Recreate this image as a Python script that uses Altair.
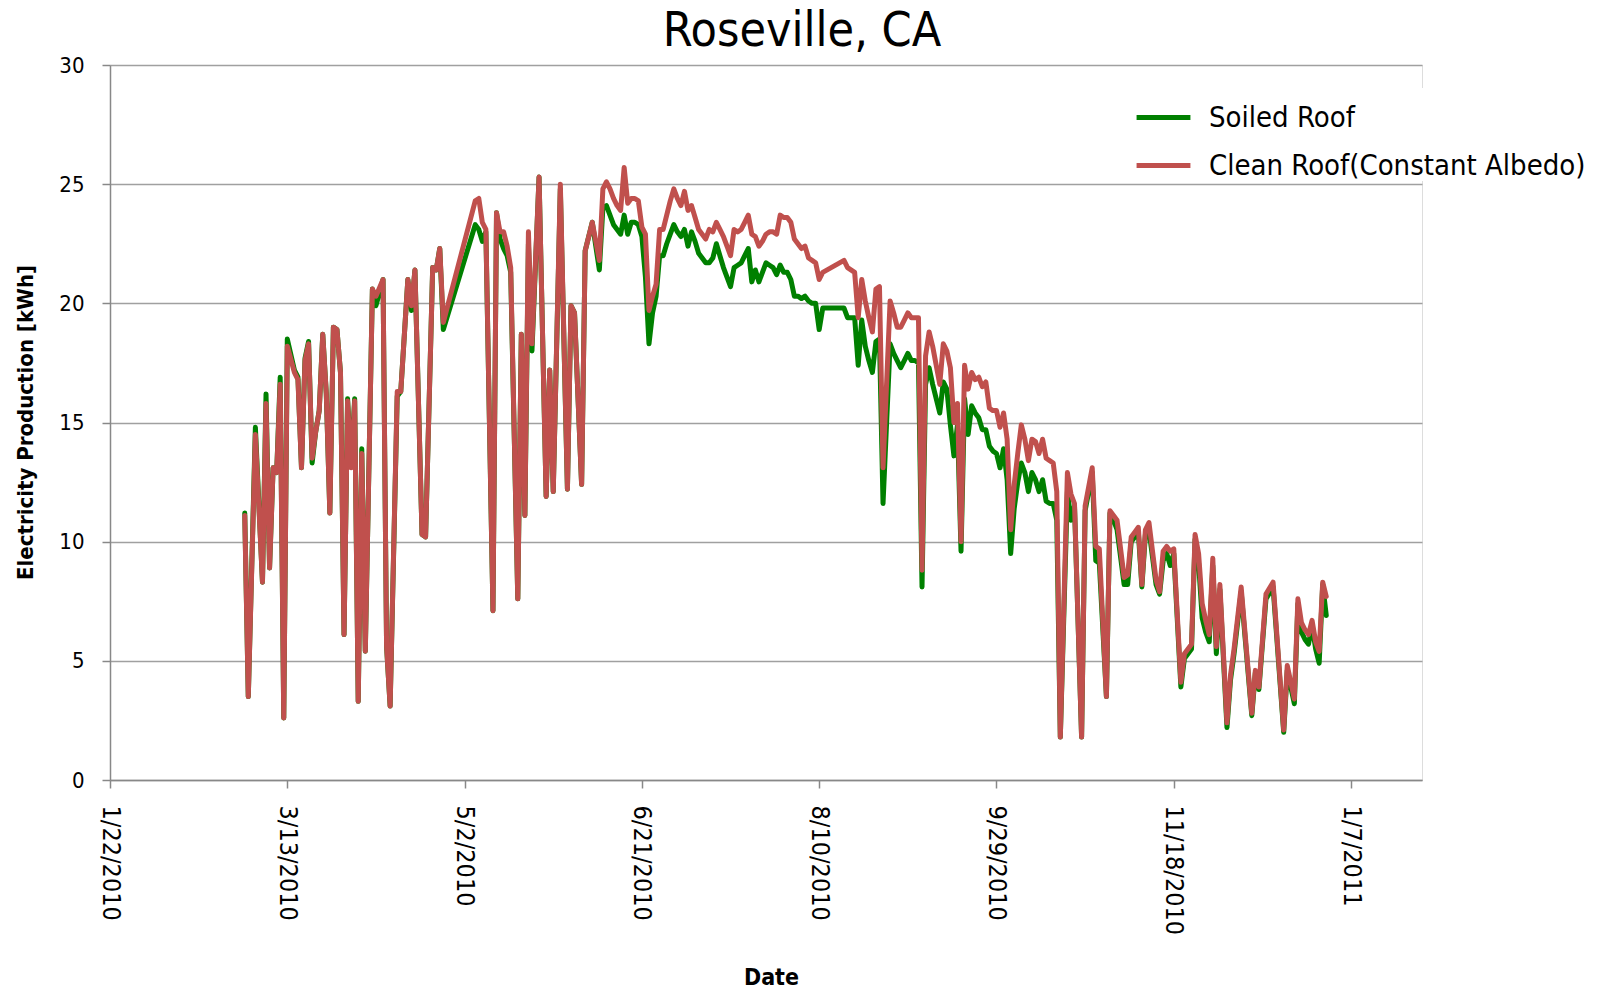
import altair as alt
import pandas as pd

start_date = "2010-01-22"

day_offset = [38, 39, 41, 43, 44, 45, 46, 47, 48, 49, 50, 52, 53, 54, 55, 56, 57, 58, 59, 60,
              61, 62, 63, 64, 65, 66, 67, 68, 69, 70, 71, 72, 74, 75, 77, 78, 79, 81, 82, 84,
              85, 86, 88, 89, 91, 92, 93, 94, 103, 104, 105, 106, 108, 109, 110, 111, 112, 113, 115, 116,
              117, 118, 119, 121, 123, 124, 125, 127, 129, 130, 131, 133, 134, 136, 138, 139, 140, 141, 142, 143,
              144, 145, 146, 147, 148, 149, 150, 151, 152, 153, 154, 155, 156, 157, 158, 159, 160, 161, 162, 163,
              164, 165, 166, 167, 168, 169, 170, 171, 172, 173, 174, 175, 176, 177, 178, 179, 180, 181, 182, 183,
              184, 185, 186, 187, 188, 189, 190, 191, 192, 193, 194, 195, 196, 197, 198, 199, 200, 201, 207, 208,
              210, 211, 212, 213, 214, 215, 216, 217, 218, 220, 221, 222, 223, 224, 225, 226, 227, 228, 229, 230,
              231, 232, 233, 234, 235, 236, 237, 238, 239, 240, 241, 242, 243, 244, 245, 246, 247, 248, 249, 250,
              251, 252, 253, 254, 255, 256, 257, 258, 259, 260, 261, 262, 263, 264, 265, 266, 267, 268, 270, 271,
              272, 274, 275, 277, 278, 279, 281, 282, 283, 284, 286, 287, 288, 289, 290, 291, 292, 293, 295, 296,
              297, 298, 299, 300, 302, 303, 305, 306, 307, 308, 309, 310, 311, 312, 313, 315, 316, 317, 319, 322,
              323, 324, 326, 328, 331, 332, 334, 335, 336, 337, 338, 339, 340, 341, 342, 343]

clean_roof = [11.1, 3.5, 14.5, 8.3, 15.8, 8.9, 13.1, 12.9, 16.6, 2.6, 18.2, 17.1, 16.8, 13.1, 17.6, 18.3, 13.5, 14.6, 15.5, 18.7,
              16.2, 11.2, 19.0, 18.9, 17.1, 6.1, 15.9, 13.1, 15.9, 3.3, 13.7, 5.4, 20.6, 20.3, 21.0, 5.6, 3.1, 16.3, 16.3, 21.0,
              19.9, 21.4, 10.3, 10.2, 21.5, 21.4, 22.3, 19.2, 24.3, 24.4, 23.4, 23.1, 7.1, 23.8, 23.0, 23.0, 22.4, 21.5, 7.6, 18.7,
              11.1, 23.0, 18.3, 25.3, 11.9, 17.2, 12.1, 25.0, 12.2, 19.9, 19.6, 12.4, 22.2, 23.4, 21.8, 24.8, 25.1, 24.8, 24.4, 24.1,
              23.9, 25.7, 24.2, 24.4, 24.4, 24.3, 23.2, 22.9, 19.7, 20.3, 20.8, 23.1, 23.1, 23.7, 24.3, 24.8, 24.4, 24.1, 24.7, 23.9,
              24.1, 23.6, 23.1, 22.9, 22.7, 23.1, 23.0, 23.4, 23.1, 22.8, 22.4, 22.0, 23.1, 23.0, 23.1, 23.4, 23.7, 22.9, 22.8, 22.4,
              22.6, 22.9, 23.0, 23.0, 22.9, 23.7, 23.6, 23.6, 23.4, 22.7, 22.5, 22.3, 22.4, 21.9, 21.8, 21.7, 21.0, 21.3, 21.8, 21.5,
              21.3, 19.4, 21.0, 20.1, 19.4, 18.8, 20.6, 20.7, 13.1, 20.1, 19.6, 19.0, 19.0, 19.3, 19.6, 19.4, 19.4, 19.4, 8.8, 17.8,
              18.8, 18.2, 17.4, 16.6, 18.3, 18.0, 17.3, 15.0, 15.8, 10.0, 17.4, 16.4, 17.1, 16.8, 16.9, 16.5, 16.7, 15.6, 15.5, 15.5,
              14.8, 15.4, 14.3, 10.5, 12.4, 13.7, 14.9, 14.3, 13.4, 14.3, 14.2, 13.7, 14.3, 13.5, 13.4, 13.3, 12.1, 1.8, 12.9, 12.0,
              11.6, 1.8, 11.5, 13.1, 9.8, 9.7, 3.5, 11.3, 11.1, 10.9, 8.5, 8.6, 10.2, 10.4, 10.6, 8.2, 10.5, 10.8, 8.4, 7.9,
              9.6, 9.8, 9.6, 9.7, 4.1, 5.3, 5.7, 10.3, 9.5, 7.4, 6.7, 6.1, 9.3, 5.6, 8.2, 2.4, 4.4, 5.5, 8.1, 2.8,
              4.6, 3.9, 7.8, 8.3, 2.1, 4.8, 3.4, 7.6, 6.6, 6.3, 6.1, 6.7, 5.8, 5.4, 8.3, 7.7]

soiled_roof = [11.2, 3.5, 14.8, 8.3, 16.2, 8.9, 13.1, 12.9, 16.9, 2.6, 18.5, 17.2, 16.9, 13.1, 17.7, 18.4, 13.3, 14.6, 15.5, 18.7,
               16.2, 11.2, 19.0, 18.9, 17.1, 6.1, 16.0, 13.2, 16.0, 3.3, 13.9, 5.4, 20.6, 19.9, 21.0, 5.6, 3.1, 16.1, 16.3, 21.0,
               19.7, 21.4, 10.3, 10.2, 21.5, 21.4, 22.3, 18.9, 23.3, 23.1, 22.6, 23.0, 7.1, 23.8, 22.7, 22.3, 22.0, 21.3, 7.6, 18.7,
               11.1, 22.5, 18.0, 25.3, 11.9, 17.2, 12.1, 24.8, 12.2, 19.9, 19.6, 12.4, 22.2, 23.4, 21.4, 24.0, 24.1, 23.7, 23.3, 23.1,
               22.9, 23.7, 22.9, 23.4, 23.4, 23.3, 22.8, 21.1, 18.3, 19.6, 20.3, 22.0, 22.0, 22.5, 22.9, 23.3, 23.0, 22.8, 23.1, 22.4,
               23.0, 22.6, 22.1, 21.9, 21.7, 21.7, 21.9, 22.5, 22.0, 21.5, 21.1, 20.7, 21.5, 21.6, 21.7, 22.0, 22.3, 20.9, 21.4, 20.9,
               21.3, 21.7, 21.6, 21.5, 21.2, 21.6, 21.3, 21.3, 21.0, 20.3, 20.3, 20.2, 20.3, 20.1, 20.0, 20.0, 18.9, 19.8, 19.8, 19.4,
               19.4, 17.4, 19.3, 18.2, 17.6, 17.1, 18.4, 18.5, 11.6, 18.3, 17.9, 17.6, 17.3, 17.6, 17.9, 17.6, 17.6, 17.5, 8.1, 16.6,
               17.3, 16.6, 16.0, 15.4, 16.7, 16.4, 14.9, 13.6, 14.9, 9.6, 16.0, 14.5, 15.7, 15.4, 15.2, 14.7, 14.7, 14.0, 13.8, 13.7,
               13.1, 13.9, 12.6, 9.5, 11.4, 12.5, 13.3, 12.9, 12.1, 12.9, 12.6, 12.1, 12.6, 11.7, 11.6, 11.6, 10.9, 1.8, 12.1, 10.9,
               11.5, 1.8, 11.3, 12.9, 9.2, 9.1, 3.5, 11.2, 10.9, 10.5, 8.2, 8.2, 10.0, 10.2, 10.4, 8.1, 10.3, 10.5, 8.2, 7.8,
               9.2, 9.5, 9.0, 9.5, 3.9, 5.1, 5.5, 10.1, 9.1, 6.8, 6.2, 5.8, 9.0, 5.3, 8.0, 2.2, 4.2, 5.3, 7.9, 2.7,
               4.5, 3.8, 7.6, 8.1, 2.0, 4.6, 3.2, 7.4, 6.2, 5.9, 5.7, 6.5, 5.5, 4.9, 8.2, 6.9]

series_names = ["Soiled Roof", "Clean Roof(Constant Albedo)"]
series_colors = ["#008000", "#C0504D"]
tick_dates = [(2010, 1, 22), (2010, 3, 13), (2010, 5, 2), (2010, 6, 21), (2010, 8, 10),
              (2010, 9, 29), (2010, 11, 18), (2011, 1, 7)]
x_domain = [(2010, 1, 22), (2011, 1, 27)]
y_ticks = [0, 5, 10, 15, 20, 25, 30]

dates = (pd.Timestamp(start_date) + pd.to_timedelta(day_offset, unit="D")).strftime("%Y-%m-%d").tolist()

df = pd.concat([
    pd.DataFrame({"Date": dates, "kWh": soiled_roof, "Series": series_names[0]}),
    pd.DataFrame({"Date": dates, "kWh": clean_roof, "Series": series_names[1]}),
], ignore_index=True)


def dt(t):
    return alt.DateTime(year=t[0], month=t[1], date=t[2], utc=True)


FONT = "DejaVu Sans Condensed, DejaVu Sans, sans-serif"
GRID = "#a0a0a0"
AXC = "#888888"

x_enc = alt.X(
    "Date:T",
    title="Date",
    scale=alt.Scale(type="utc", domain=[dt(x_domain[0]), dt(x_domain[1])]),
    axis=alt.Axis(
        values=[dt(t) for t in tick_dates],
        labelExpr="utcFormat(datum.value, '%-m/%-d/%Y')",
        labelAngle=90,
        labelAlign="left",
        labelBaseline="middle",
        labelFont=FONT,
        labelFontSize=25,
        labelColor="black",
        labelPadding=17,
        labelOverlap=False,
        tickSize=8,
        tickColor=AXC,
        tickWidth=1.5,
        domainColor=AXC,
        domainWidth=1.5,
        grid=False,
        titleFont=FONT,
        titleFontSize=23,
        titleFontWeight="bold",
        titleColor="black",
        titleX=661,
        titleY=197,
        titleBaseline="middle",
        titleAlign="center",
    ),
)

y_enc = alt.Y(
    "kWh:Q",
    title="Electricity Production [kWh]",
    scale=alt.Scale(domain=[0, 30], nice=False),
    axis=alt.Axis(
        values=y_ticks,
        labelFont=FONT,
        labelFontSize=22,
        labelColor="black",
        labelPadding=18,
        tickSize=8,
        tickColor=AXC,
        tickWidth=1.5,
        domainColor=AXC,
        domainWidth=1.5,
        grid=True,
        gridColor=GRID,
        gridWidth=1.5,
        titleFont=FONT,
        titleFontSize=22,
        titleFontWeight="bold",
        titleColor="black",
        titleAngle=270,
        titleX=-85,
        titleY=357,
        titleBaseline="middle",
        titleAlign="center",
    ),
)

color_enc = alt.Color(
    "Series:N",
    scale=alt.Scale(domain=series_names, range=series_colors),
    legend=alt.Legend(
        title=None,
        orient="none",
        legendX=1024,
        legendY=23,
        symbolType="stroke",
        symbolSize=2900,
        symbolStrokeWidth=5,
        labelFont=FONT,
        labelFontSize=29,
        labelColor="black",
        labelOffset=16,
        labelLimit=800,
        rowPadding=3,
        padding=0,
        fillColor="white",
    ),
)

base = alt.Chart(df).mark_line(strokeWidth=5, strokeJoin="round", strokeCap="round").encode(
    x=x_enc, y=y_enc, color=color_enc, order=alt.Order("Date:T")
)

soiled = base.transform_filter(alt.datum.Series == series_names[0])
clean = base.transform_filter(alt.datum.Series == series_names[1])

chart = alt.layer(soiled, clean).properties(
    width=1312,
    height=715,
    title=alt.TitleParams(
        "Roseville, CA",
        font=FONT,
        fontSize=48,
        fontWeight="normal",
        color="black",
        anchor="middle",
        dx=36,
        offset=-2,
    ),
    autosize=alt.AutoSizeParams(type="none"),
    padding={"left": 102, "top": 57, "right": 168, "bottom": 212},
).configure_view(stroke=None).configure(background="white")

chart.save("out.html", embed_options={"renderer": "svg", "actions": False})
